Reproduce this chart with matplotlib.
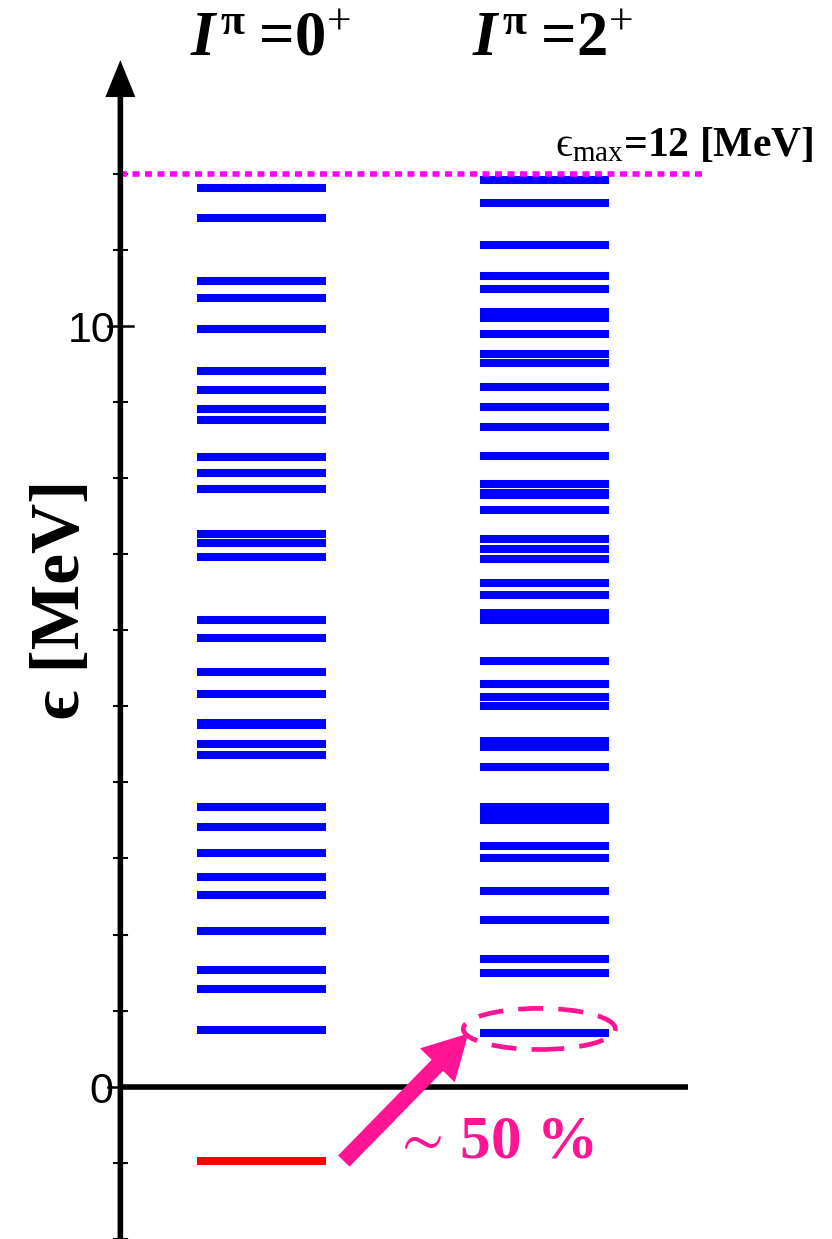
import matplotlib.pyplot as plt
from matplotlib.patches import Ellipse

plt.rcParams['mathtext.fontset'] = 'custom'
plt.rcParams['mathtext.rm'] = 'Liberation Serif'
plt.rcParams['mathtext.it'] = 'Liberation Serif:italic'
plt.rcParams['mathtext.bf'] = 'Liberation Serif:bold'
plt.rcParams['mathtext.bfit'] = 'Liberation Serif:italic:bold'
plt.rcParams['mathtext.fallback'] = 'stix'

# level energies in MeV
levels_0 = [11.81, 11.42, 10.59, 10.37, 9.96, 9.41, 9.16, 8.91, 8.76, 8.27,
            8.07, 7.86, 7.26, 7.14, 6.96, 6.14, 5.90, 5.45, 5.16, 4.78,
            4.76, 4.50, 4.36, 3.67, 3.41, 3.07, 2.75, 2.52, 2.05, 1.53,
            1.28, 0.75]
levels_2 = [11.91, 11.61, 11.06, 10.66, 10.48, 10.18, 10.10, 9.89, 9.63, 9.51,
            9.20, 8.93, 8.67, 8.29, 7.92, 7.80, 7.77, 7.58, 7.20, 7.07,
            6.93, 6.62, 6.46, 6.22, 6.14, 5.59, 5.29, 5.12, 5.00, 4.54,
            4.46, 4.20, 3.68, 3.59, 3.50, 3.17, 3.01, 2.57, 2.19, 1.68,
            1.50, 0.71]
ground = -0.98
e_max = 12.0
column_labels = ['0', '2']
minor_ticks = [-2, -1, 1, 2, 3, 4, 5, 6, 7, 8, 9, 11, 12]
major_ticks = [0, 10]

fig = plt.figure(figsize=(8.32, 12.39), dpi=100)
ax = fig.add_axes([0, 0, 1, 1])
ax.set_xlim(0.074, 3.019)
ax.set_ylim(-2.0, 14.28)
ax.axis('off')

half = 0.228
ax.hlines(levels_0, 1 - half, 1 + half, color='#0000ff', lw=5.8, capstyle='butt')
ax.hlines(levels_2, 2 - half, 2 + half, color='#0000ff', lw=5.8, capstyle='butt')
ax.hlines([ground], 1 - half, 1 + half, color='#ff0000', lw=5.8, capstyle='butt')

# axes drawn by hand
ax.annotate('', xy=(0.5, 13.49), xytext=(0.5, -2.1),
            arrowprops=dict(arrowstyle='simple,head_width=2.16,head_length=2.66,tail_width=0.4',
                            mutation_scale=10, fc='k', ec='none', shrinkA=0, shrinkB=0))
ax.plot([0.5, 2.51], [0, 0], color='k', lw=4, solid_capstyle='butt')
for t in minor_ticks:
    ax.plot([0.477, 0.523], [t, t], color='k', lw=1.5)
for t in major_ticks:
    ax.plot([0.456, 0.544], [t, t], color='k', lw=1.8)
ax.text(0.483, 9.79, '10', ha='right', va='baseline', fontsize=31, family='Liberation Sans')
ax.text(0.474, -0.21, '0', ha='right', va='baseline', fontsize=31, family='Liberation Sans')

ax.plot([0.5, 2.57], [e_max, e_max], color='#ff00ff', lw=4, dashes=(1.25, 1.0),
        dash_capstyle='butt')
ax.text(2.953, 12.23, r'$\mathrm{ϵ}_{\mathrm{max}}$=12 [MeV]', ha='right',
        va='baseline', fontsize=30, weight='bold', family='Liberation Serif')

for i, lab in enumerate(column_labels):
    ax.text(i + 1.03, 13.55, r'$\mathbfit{I}^{\,\mathbf{\pi}}\;$=' + lab + r'$^{+}$',
            ha='center', va='baseline', fontsize=45, weight='bold', family='Liberation Serif')

ax.text(0.293, 6.41, 'ϵ [MeV]', rotation=90, ha='center', va='center', fontsize=50,
        weight='bold', family=['Liberation Serif', 'DejaVu Serif'])

# annotation of the lowest 2+ state
ax.add_patch(Ellipse((1.983, 0.76), 0.538, 0.54, fill=False, ec='#ff1493', lw=3.4,
                     linestyle=(0, (5.3, 3.2))))
ax.annotate('', xy=(1.732, 0.70), xytext=(1.291, -0.976),
            arrowprops=dict(arrowstyle='simple,head_width=3.5,head_length=3.2,tail_width=1.15',
                            mutation_scale=10, fc='#ff1493', ec='none', shrinkA=0, shrinkB=0))
ax.text(1.466, -0.925, r'$\sim\,$50 %', ha='left', va='baseline', fontsize=44,
        color='#ff1493', weight='bold', family='Liberation Serif')

fig.savefig('out.png', dpi=100)
